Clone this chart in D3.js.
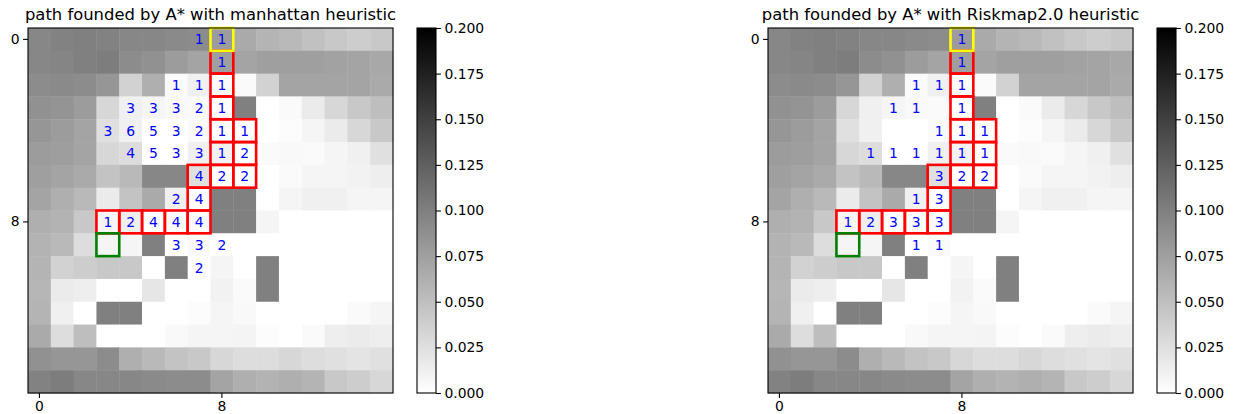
<!DOCTYPE html>
<html>
<head>
<meta charset="utf-8">
<script src="https://cdn.jsdelivr.net/npm/d3@7"></script>
<style>
body { margin: 0; background: #fff; }
text { font-family: "DejaVu Sans", sans-serif; }
</style>
</head>
<body>
<svg id="chart" width="1233" height="414"></svg>
<script>
// risk value of every cell (row by row, 16 x 16)
var riskMap = [
  [0.094,0.098,0.100,0.098,0.094,0.094,0.092,0.090,0.078,0.067,0.059,0.055,0.049,0.043,0.039,0.043],
  [0.094,0.096,0.100,0.102,0.090,0.086,0.078,0.071,0.075,0.071,0.075,0.075,0.075,0.073,0.071,0.068],
  [0.090,0.092,0.090,0.082,0.035,0.063,0.004,0.012,0.004,0.004,0.035,0.071,0.071,0.071,0.071,0.067],
  [0.086,0.084,0.078,0.031,0.012,0.008,0.005,0.004,0.000,0.100,0.000,0.004,0.016,0.031,0.043,0.051],
  [0.082,0.078,0.071,0.024,0.012,0.000,0.000,0.004,0.000,0.000,0.000,0.002,0.008,0.016,0.031,0.043],
  [0.078,0.076,0.071,0.031,0.027,0.000,0.000,0.012,0.010,0.000,0.004,0.005,0.004,0.008,0.012,0.024],
  [0.075,0.071,0.067,0.047,0.055,0.094,0.094,0.024,0.000,0.000,0.000,0.004,0.008,0.008,0.010,0.013],
  [0.071,0.063,0.055,0.016,0.047,0.067,0.012,0.000,0.100,0.100,0.000,0.008,0.012,0.012,0.008,0.008],
  [0.063,0.060,0.043,0.008,0.013,0.000,0.004,0.002,0.100,0.100,0.008,0.000,0.000,0.000,0.000,0.000],
  [0.060,0.055,0.027,0.008,0.008,0.100,0.000,0.004,0.000,0.000,0.000,0.000,0.000,0.000,0.000,0.000],
  [0.059,0.035,0.039,0.043,0.043,0.000,0.100,0.000,0.008,0.000,0.100,0.000,0.000,0.000,0.000,0.000],
  [0.057,0.016,0.013,0.000,0.000,0.020,0.000,0.000,0.010,0.004,0.100,0.000,0.000,0.000,0.000,0.000],
  [0.059,0.012,0.000,0.100,0.100,0.000,0.000,0.002,0.008,0.005,0.000,0.000,0.000,0.000,0.004,0.008],
  [0.067,0.027,0.051,0.000,0.000,0.000,0.005,0.008,0.008,0.009,0.002,0.000,0.004,0.013,0.016,0.013],
  [0.086,0.082,0.082,0.090,0.063,0.055,0.047,0.043,0.031,0.027,0.027,0.031,0.027,0.024,0.021,0.024],
  [0.098,0.102,0.094,0.094,0.094,0.092,0.090,0.090,0.071,0.063,0.060,0.063,0.059,0.043,0.039,0.031]
];

// [row, col, count] - visit counts printed in the cells
var manhattanLabels = [
  [0,7,1],[0,8,1],
  [1,8,1],
  [2,6,1],[2,7,1],[2,8,1],
  [3,4,3],[3,5,3],[3,6,3],[3,7,2],[3,8,1],
  [4,3,3],[4,4,6],[4,5,5],[4,6,3],[4,7,2],[4,8,1],[4,9,1],
  [5,4,4],[5,5,5],[5,6,3],[5,7,3],[5,8,1],[5,9,2],
  [6,7,4],[6,8,2],[6,9,2],
  [7,6,2],[7,7,4],
  [8,3,1],[8,4,2],[8,5,4],[8,6,4],[8,7,4],
  [9,6,3],[9,7,3],[9,8,2],
  [10,7,2]
];
var riskmapLabels = [
  [0,8,1],
  [1,8,1],
  [2,6,1],[2,7,1],[2,8,1],
  [3,5,1],[3,6,1],[3,8,1],
  [4,7,1],[4,8,1],[4,9,1],
  [5,4,1],[5,5,1],[5,6,1],[5,7,1],[5,8,1],[5,9,1],
  [6,7,3],[6,8,2],[6,9,2],
  [7,6,1],[7,7,3],
  [8,3,1],[8,4,2],[8,5,3],[8,6,3],[8,7,3],
  [9,6,1],[9,7,1]
];

// [row, col] of path cells
var pathCells = [
  [1,8],[2,8],[3,8],[4,8],[5,8],[6,8],
  [4,9],[5,9],[6,9],
  [6,7],[7,7],[8,7],
  [8,6],[8,5],[8,4],[8,3]
];
var startCell = [0,8];
var goalCell = [9,3];

var axisTicks = [0, 8];
var colorTicks = [0, 0.025, 0.05, 0.075, 0.1, 0.125, 0.15, 0.175, 0.2];
var titles = ["path founded by A* with manhattan heuristic", "path founded by A* with Riskmap2.0 heuristic"];

var svg = d3.select("#chart");
var n = riskMap.length;
var topY = 28, size = 365;

var color = d3.scaleLinear().domain([0, 0.2]).range(["#ffffff", "#000000"]).clamp(true);

var panels = [
  {title: titles[0], labels: manhattanLabels, left: 28},
  {title: titles[1], labels: riskmapLabels, left: 768}
];

// gradient for colorbars
var grad = svg.append("defs").append("linearGradient")
  .attr("id", "cbar").attr("x1", 0).attr("y1", 1).attr("x2", 0).attr("y2", 0);
grad.append("stop").attr("offset", "0%").attr("stop-color", color(0));
grad.append("stop").attr("offset", "100%").attr("stop-color", color(0.2));

panels.forEach(function(p){
  var x = d3.scaleBand().domain(d3.range(n)).range([p.left, p.left + size]);
  var y = d3.scaleBand().domain(d3.range(n)).range([topY, topY + size]);
  var g = svg.append("g");

  // cells
  riskMap.forEach(function(row, r){
    g.selectAll(null).data(row).enter().append("rect")
      .attr("x", function(d, c){ return x(c); })
      .attr("y", y(r))
      .attr("width", x.bandwidth() + 0.4)
      .attr("height", y.bandwidth() + 0.4)
      .attr("fill", function(d){ return color(d); });
  });

  // numbers
  g.selectAll("text.cnt").data(p.labels).enter().append("text")
    .attr("class", "cnt")
    .attr("x", function(d){ return x(d[1]) + x.bandwidth() / 2; })
    .attr("y", function(d){ return y(d[0]) + y.bandwidth() / 2; })
    .attr("text-anchor", "middle")
    .attr("dominant-baseline", "central")
    .attr("font-size", "13.9px")
    .attr("fill", "#0000ff")
    .text(function(d){ return d[2]; });

  // boxes
  var boxes = pathCells.map(function(c){ return {r: c[0], c: c[1], col: "red"}; });
  boxes.push({r: startCell[0], c: startCell[1], col: "yellow"});
  boxes.push({r: goalCell[0], c: goalCell[1], col: "green"});
  g.selectAll("rect.box").data(boxes).enter().append("rect")
    .attr("class", "box")
    .attr("x", function(d){ return x(d.c); })
    .attr("y", function(d){ return y(d.r); })
    .attr("width", x.bandwidth())
    .attr("height", y.bandwidth())
    .attr("fill", "none")
    .attr("stroke", function(d){ return d.col; })
    .attr("stroke-width", 2.6);

  // frame
  g.append("rect")
    .attr("x", p.left).attr("y", topY).attr("width", size).attr("height", size)
    .attr("fill", "none").attr("stroke", "#000").attr("stroke-width", 1.1);

  // axes
  var xa = g.append("g").attr("transform", "translate(0," + (topY + size) + ")")
    .call(d3.axisBottom(x).tickValues(axisTicks).tickSize(4.9).tickPadding(3.5));
  var ya = g.append("g").attr("transform", "translate(" + p.left + ",0)")
    .call(d3.axisLeft(y).tickValues(axisTicks).tickSize(4.9).tickPadding(3.5));
  [xa, ya].forEach(function(a){
    a.select(".domain").remove();
    a.selectAll("text").attr("font-size", "13.9px").attr("fill", "#000").attr("font-family", "DejaVu Sans");
    a.selectAll("line").attr("stroke", "#000").attr("stroke-width", 1.1);
  });

  // title
  g.append("text")
    .attr("x", p.left + size / 2).attr("y", 20)
    .attr("text-anchor", "middle")
    .attr("font-size", "16.4px")
    .text(p.title);

  // colorbar
  var cx = p.left + size + 24, cw = 19;
  var cy = d3.scaleLinear().domain([0, 0.2]).range([topY + size, topY]);
  g.append("rect").attr("x", cx).attr("y", topY).attr("width", cw).attr("height", size)
    .attr("fill", "url(#cbar)").attr("stroke", "#000").attr("stroke-width", 1.1);
  var ca = g.append("g").attr("transform", "translate(" + (cx + cw) + ",0)")
    .call(d3.axisRight(cy).tickValues(colorTicks).tickFormat(d3.format(".3f")).tickSize(4.9).tickPadding(3.5));
  ca.select(".domain").remove();
  ca.selectAll("text").attr("font-size", "13.9px").attr("fill", "#000").attr("font-family", "DejaVu Sans");
  ca.selectAll("line").attr("stroke", "#000").attr("stroke-width", 1.1);
});
</script>
</body>
</html>
